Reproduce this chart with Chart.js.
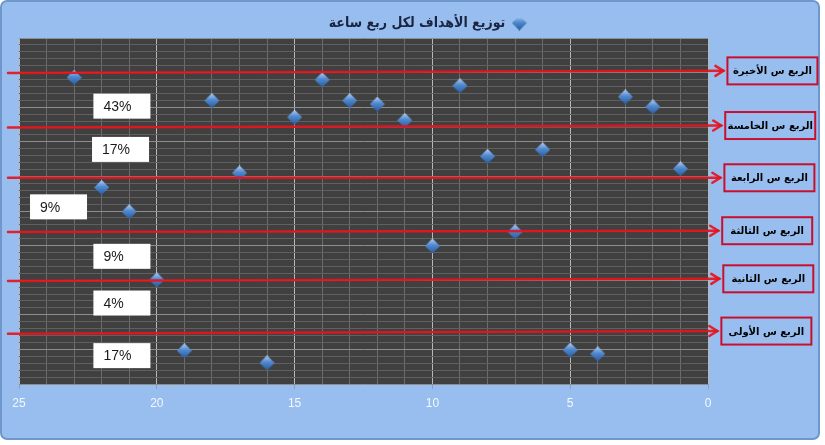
<!DOCTYPE html>
<html>
<head>
<meta charset="utf-8">
<script src="https://cdn.jsdelivr.net/npm/chart.js@4/dist/chart.umd.min.js"></script>
<style>
  html, body { margin: 0; padding: 0; background: #ffffff; }
  #wrap { width: 825px; height: 445px; }
</style>
</head>
<body>
<div id="wrap"><canvas id="chart" width="825" height="445"></canvas></div>
<script>
// goal number (x) and the minute it was scored (y)
const goalNumbers = [1, 2, 3, 4, 5, 6, 7, 8, 9, 10, 11, 12, 13, 14, 15, 16, 17, 18, 19, 20, 21, 22, 23];
const goalMinutes = [62.2, 80.1, 83.0, 8.7, 9.8, 67.7, 44.0, 65.8, 86.2, 39.9, 76.2, 80.9, 81.9, 87.9, 77.1, 6.1, 61.0, 81.9, 9.6, 30.1, 49.8, 56.8, 88.6];

// quarters, top to bottom
const quarterNames = ['الربع س الأخيرة', 'الربع س الخامسة', 'الربع س الرابعة', 'الربع س الثالثة', 'الربع س الثانية', 'الربع س الأولى'];
const quarterPercents = ['43%', '17%', '9%', '9%', '4%', '17%'];
// red divider lines (minute at left end / right end), hand drawn so a bit tilted
const quarterLineLeft = [89.9, 74.1, 59.6, 43.9, 29.8, 14.5];
const quarterLineRight = [90.5, 74.7, 59.6, 44.3, 30.4, 15.3];

const xTicks = [0, 5, 10, 15, 20, 25];
const seriesName = 'توزيع الأهداف لكل ربع ساعة';

// where the annotations sit, in axis units
const lineStartX = 25.4;
const lineTipX = [-0.56, -0.48, -0.45, -0.37, -0.41, -0.34];
const percentBoxX = [22.3, 22.35, 24.6, 22.3, 22.3, 22.3];
const percentBoxY = [80.3, 67.8, 51.2, 36.9, 23.4, 8.2];

const panelColor = '#98bef0';

// blue diamond marker with a little shading, like the excel one
function makeDiamond(size) {
    let c = document.createElement('canvas');
    c.width = size;
    c.height = size;
    let g = c.getContext('2d');
    let h = size / 2;
    let grad = g.createLinearGradient(0, 0, 0, size);
    grad.addColorStop(0, '#b5d1f5');
    grad.addColorStop(0.45, '#5089d0');
    grad.addColorStop(1, '#2a5a9c');
    g.beginPath();
    g.moveTo(h, 0);
    g.lineTo(size, h);
    g.lineTo(h, size);
    g.lineTo(0, h);
    g.closePath();
    g.fillStyle = grad;
    g.fill();
    return c;
}
const diamond = makeDiamond(15);

const background = {
    id: 'background',
    beforeDraw(chart) {
        let ctx = chart.ctx;
        let area = chart.chartArea;
        ctx.save();
        ctx.fillStyle = '#ffffff';
        ctx.fillRect(0, 0, chart.width, chart.height);
        ctx.beginPath();
        ctx.roundRect(1, 1, 818, 438, 6);
        ctx.fillStyle = panelColor;
        ctx.fill();
        ctx.lineWidth = 2;
        ctx.strokeStyle = '#7097cc';
        ctx.stroke();
        ctx.fillStyle = '#404040';
        ctx.fillRect(area.left, area.top, area.right - area.left, area.bottom - area.top);
        ctx.restore();
    }
};

// the legend (used as the heading) sits centred on the whole panel, not the plot
const legendShift = {
    id: 'legendShift',
    afterLayout(chart) {
        chart.legend.left += 64;
        chart.legend.right += 64;
    }
};

const quarterArrows = {
    id: 'quarterArrows',
    afterDatasetsDraw(chart) {
        let ctx = chart.ctx;
        let x = chart.scales.x, y = chart.scales.y;
        ctx.save();
        for (let i = 0; i < quarterNames.length; i++) {
            let x0 = x.getPixelForValue(lineStartX), y0 = y.getPixelForValue(quarterLineLeft[i]);
            let x1 = x.getPixelForValue(lineTipX[i]), y1 = y.getPixelForValue(quarterLineRight[i]);
            ctx.strokeStyle = 'rgba(230, 20, 30, 0.92)';
            ctx.lineWidth = 2.5;
            ctx.lineCap = 'round';
            ctx.beginPath();
            ctx.moveTo(x0, y0);
            ctx.lineTo(x1, y1);
            ctx.stroke();
            // open arrow head
            ctx.beginPath();
            ctx.moveTo(x1 - 8, y1 - 5);
            ctx.lineTo(x1, y1);
            ctx.lineTo(x1 - 8, y1 + 5);
            ctx.stroke();

            // label box on the right
            let bw = 90, bh = 27;
            let bx = x1 + 4, by = y1 - bh / 2;
            ctx.lineWidth = 2;
            ctx.strokeStyle = '#c8102e';
            ctx.strokeRect(bx, by, bw, bh);
            ctx.fillStyle = '#000000';
            ctx.font = 'bold 10px "DejaVu Sans"';
            ctx.direction = 'rtl';
            ctx.textAlign = 'center';
            ctx.textBaseline = 'middle';
            ctx.fillText(quarterNames[i], bx + bw / 2, by + bh / 2 + 1);
        }
        ctx.restore();
    },
    afterDraw(chart) {
        let ctx = chart.ctx;
        let x = chart.scales.x, y = chart.scales.y;
        ctx.save();
        for (let i = 0; i < quarterPercents.length; i++) {
            let bx = x.getPixelForValue(percentBoxX[i]);
            let cy = y.getPixelForValue(percentBoxY[i]);
            ctx.fillStyle = '#ffffff';
            ctx.fillRect(bx, cy - 12.5, 57, 25);
            ctx.fillStyle = '#1a1a1a';
            ctx.font = '14px "Liberation Sans"';
            ctx.textAlign = 'left';
            ctx.textBaseline = 'middle';
            ctx.fillText(quarterPercents[i], bx + 10, cy + 1);
        }
        ctx.restore();
    }
};

new Chart(document.getElementById('chart'), {
    type: 'scatter',
    data: {
        datasets: [{
            label: seriesName,
            data: goalNumbers.map((g, i) => ({x: g, y: goalMinutes[i]})),
            pointStyle: diamond,
            pointRadius: 7,
            pointHoverRadius: 7,
        }]
    },
    options: {
        responsive: false,
        animation: false,
        layout: {padding: {left: 19, right: 117, top: 0, bottom: 21}},
        plugins: {
            tooltip: {enabled: false},
            legend: {
                position: 'top',
                rtl: true,
                textDirection: 'rtl',
                maxHeight: 38,
                labels: {
                    usePointStyle: true,
                    padding: 16,
                    color: '#1b2440',
                    font: {family: '"DejaVu Sans Condensed", "DejaVu Sans"', size: 14, weight: 'bold'},
                }
            }
        },
        scales: {
            x: {
                type: 'linear',
                reverse: true,
                min: 0,
                max: 25,
                afterFit: (scale) => { scale.height = 40; },
                afterBuildTicks: (scale) => {
                    let ticks = [];
                    for (let v = 0; v <= 25; v++) ticks.push({value: v});
                    scale.ticks = ticks;
                },
                border: {display: false},
                grid: {
                    color: (c) => (c.tick && xTicks.includes(c.tick.value)) ? '#b8b8b8' : '#6c6c6c',
                    tickColor: (c) => (c.tick && xTicks.includes(c.tick.value)) ? '#8aa0c0' : 'rgba(0,0,0,0)',
                    tickLength: 5,
                },
                ticks: {
                    autoSkip: false,
                    maxRotation: 0,
                    padding: 7,
                    color: '#f4f7fc',
                    font: {family: '"Liberation Sans"', size: 12},
                    callback: (v) => xTicks.includes(v) ? String(v) : '',
                }
            },
            y: {
                type: 'linear',
                min: 0,
                max: 100,
                afterFit: (scale) => { scale.width = 0; },
                border: {display: false},
                grid: {
                    color: (c) => (c.tick && c.tick.value % 10 === 0) ? '#8e8e8e' : '#606060',
                    drawTicks: false,
                },
                ticks: {display: false, stepSize: 2}
            }
        }
    },
    plugins: [background, legendShift, quarterArrows]
});
</script>
</body>
</html>
